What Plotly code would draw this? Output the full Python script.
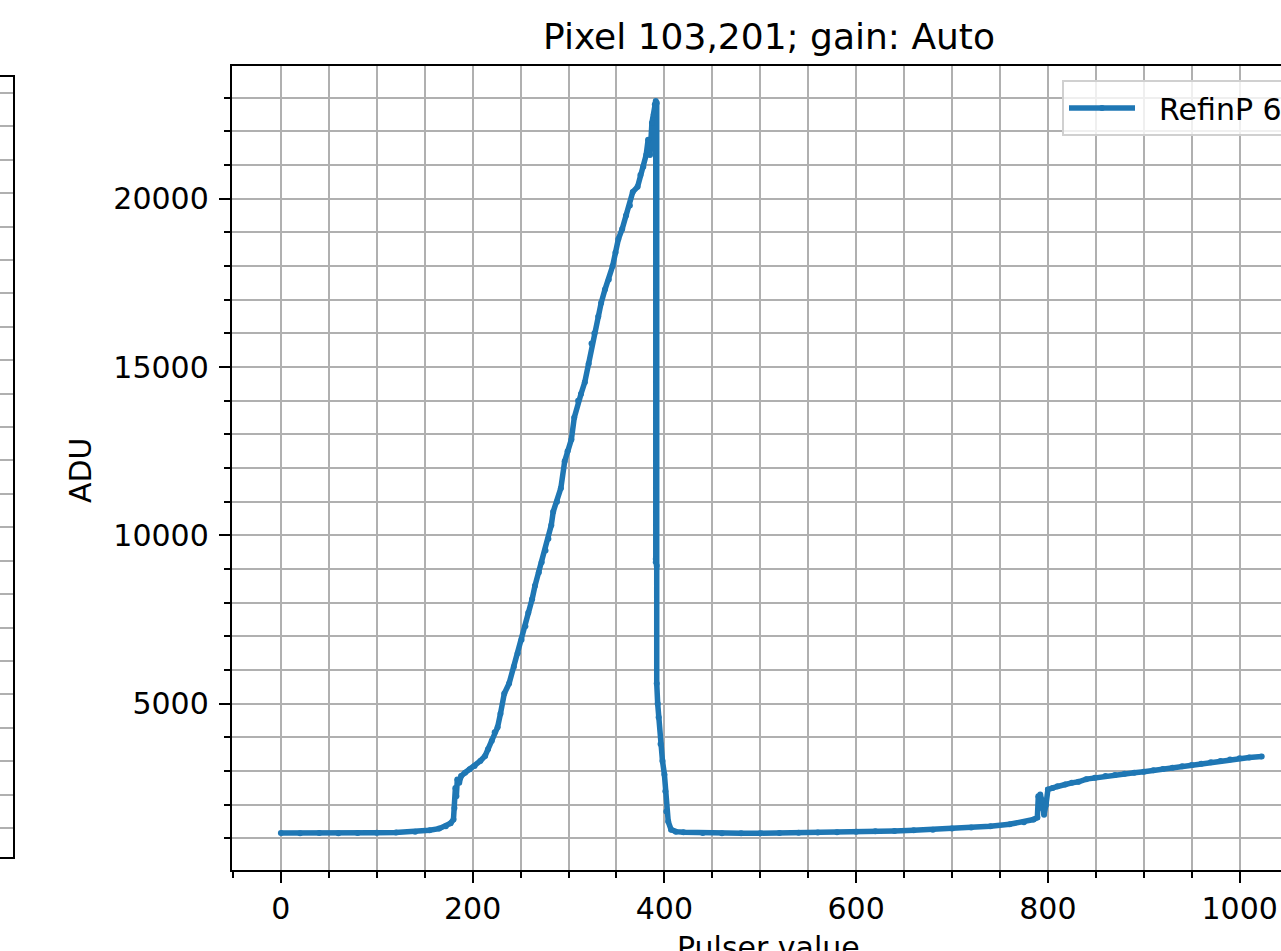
import plotly.graph_objects as go

# Pulser scan of pixel (103, 201) in auto-gain mode
pulser = [0, 20, 40, 60, 80, 100, 120, 140, 155, 165, 172, 177, 180, 181, 182, 183, 184, 186,
          188, 192, 197, 202, 208, 213, 216, 220, 223, 226, 229, 233, 238, 243, 247, 251, 255,
          258, 262, 265, 269, 272, 276, 279, 282, 284, 288, 292, 296, 299, 303, 306, 310, 313,
          317, 321, 324, 327, 331, 334, 338, 342, 346, 349, 352, 356, 360, 364, 367, 372, 375,
          378, 381, 383, 385, 387, 389, 390, 391, 391, 391, 391, 392, 392, 392, 393, 394, 396,
          398, 400, 401, 402, 404, 407, 412, 420, 440, 460, 480, 500, 520, 540, 560, 580, 600,
          620, 640, 660, 680, 700, 720, 740, 760, 775, 785, 789, 790, 791, 792, 794, 796, 798,
          800, 805, 810, 818, 825, 832, 840, 849, 860, 870, 880, 890, 900, 910, 920, 930, 940,
          950, 960, 970, 980, 990, 1000, 1010, 1023]
adu = [1160, 1155, 1160, 1150, 1160, 1165, 1175, 1200, 1240, 1290, 1360, 1450, 1560, 1900,
       2500, 2250, 2750, 2650, 2850, 2950, 3050, 3150, 3300, 3450, 3650, 3900, 4150, 4300,
       4700, 5300, 5600, 6100, 6500, 6900, 7300, 7700, 8100, 8500, 8900, 9200, 9550, 9900,
       10300, 10700, 11000, 11400, 12200, 12500, 12850, 13500, 14000, 14200, 14550, 15100,
       15700, 16000, 16500, 16900, 17300, 17600, 18000, 18400, 18800, 19100, 19500, 19800,
       20200, 20350, 20700, 20950, 21300, 21750, 21300, 22250, 22500, 22800, 22900, 9300,
       22700, 9200, 22850, 9100, 5600, 5000, 4600, 3800, 3300, 2900, 2400, 1800, 1500, 1260,
       1200, 1180, 1160, 1150, 1150, 1155, 1160, 1165, 1175, 1185, 1200, 1210, 1220, 1240,
       1260, 1290, 1320, 1360, 1420, 1480, 1560, 1620, 2250, 1900, 2300, 2100, 1700, 2000,
       2450, 2500, 2550, 2600, 2650, 2680, 2760, 2800, 2850, 2880, 2920, 2950, 2980, 3020,
       3060, 3100, 3140, 3180, 3220, 3260, 3300, 3340, 3380, 3400, 3430]

x_ticks = [0, 200, 400, 600, 800, 1000]
y_ticks = [5000, 10000, 15000, 20000]

W, H = 1330, 980
FONT = "DejaVu Sans"
GRID = "#b0b0b0"

fig = go.Figure()
fig.add_trace(go.Scatter(
    x=pulser, y=adu, mode="lines+markers", name="\u00a0\u00a0RefinP 600",
    line=dict(color="#1f77b4", width=5.5),
    marker=dict(color="#1f77b4", size=6),
    xaxis="x", yaxis="y",
))
# neighbouring panel on the left (only its right edge shows)
fig.add_trace(go.Scatter(x=[None], y=[None], xaxis="x2", yaxis="y2", showlegend=False))

axis_common = dict(
    showline=True, linecolor="black", linewidth=2.4, mirror=True,
    showgrid=True, gridcolor=GRID, gridwidth=2.4, zeroline=False,
    ticks="outside", ticklen=11, tickwidth=2.4, tickcolor="black",
    tickfont=dict(family=FONT, size=30, color="black"),
)

x0, x1 = 232, 232 + 1078.6
y_top, y_bot = 66, 870

fig.update_layout(
    width=W, height=H,
    margin=dict(l=0, r=0, t=0, b=0),
    plot_bgcolor="white", paper_bgcolor="white",
    font=dict(family=FONT, size=30, color="black"),
    title=dict(text="Pixel 103,201; gain: Auto", x=769 / W, y=1 - 36 / H,
               xanchor="center", yanchor="middle",
               font=dict(family=FONT, size=36, color="black")),
    xaxis=dict(domain=[x0 / W, x1 / W], range=[-51, 1074], anchor="y",
               tickvals=x_ticks, ticktext=[str(v) for v in x_ticks],
               minor=dict(dtick=50, tick0=0, showgrid=True, gridcolor=GRID, gridwidth=2.4,
                          ticks="outside", ticklen=6, tickwidth=1.8, tickcolor="black"),
               **axis_common),
    yaxis=dict(domain=[1 - y_bot / H, 1 - y_top / H], range=[61, 23940], anchor="x",
               tickvals=y_ticks, ticktext=[str(v) for v in y_ticks],
               ticklabelstandoff=4,
               minor=dict(dtick=1000, tick0=0, showgrid=True, gridcolor=GRID, gridwidth=2.4,
                          ticks="outside", ticklen=6, tickwidth=1.8, tickcolor="black"),
               **axis_common),
    xaxis2=dict(domain=[0, 13 / W], range=[0, 1], anchor="y2",
                showline=True, linecolor="black", linewidth=2.4, mirror=True,
                showgrid=False, zeroline=False, showticklabels=False, ticks=""),
    yaxis2=dict(domain=[1 - 857 / H, 1 - 77 / H], range=[-0.87, 22.48], anchor="x2",
                side="right", showline=True, linecolor="black", linewidth=2.4,
                showgrid=True, gridcolor=GRID, gridwidth=2, dtick=1, tick0=0,
                zeroline=False, showticklabels=False, ticks=""),
    legend=dict(x=1062 / W, y=1 - 80 / H, xanchor="left", yanchor="top",
                bgcolor="rgba(255,255,255,0.8)", bordercolor="#d0d0d0", borderwidth=2,
                font=dict(family=FONT, size=30, color="black"), itemwidth=66),
    showlegend=True,
    annotations=[
        dict(text="ADU", x=80 / W, y=1 - 470 / H, xref="paper", yref="paper",
             textangle=-90, showarrow=False, xanchor="center", yanchor="middle",
             font=dict(family=FONT, size=30, color="black")),
        dict(text="Pulser value", x=768 / W, y=1 - 947 / H, xref="paper", yref="paper",
             showarrow=False, xanchor="center", yanchor="middle",
             font=dict(family=FONT, size=30, color="black")),
    ],
)

fig.write_html("out.html", post_script="document.body.style.margin='0';document.body.style.overflow='hidden';")
